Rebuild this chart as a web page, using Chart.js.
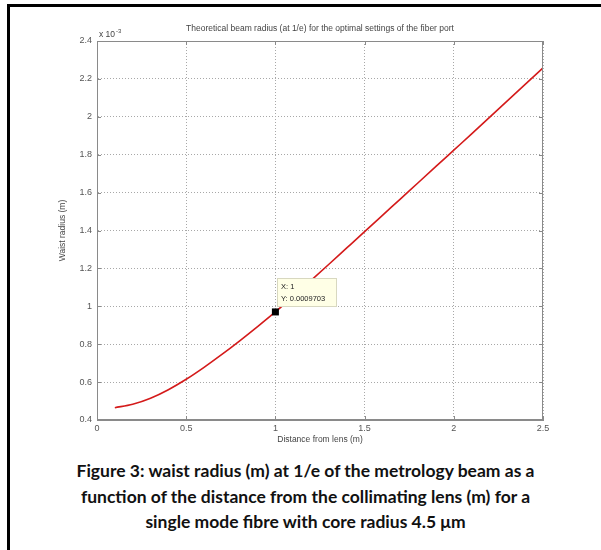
<!DOCTYPE html>
<html>
<head>
<meta charset="utf-8">
<script src="https://cdn.jsdelivr.net/npm/chart.js@4.4.1/dist/chart.umd.min.js"></script>
<style>
  body { margin: 0; background: #fff; }
  #wrap { position: relative; width: 601px; height: 550px; overflow: hidden; }
  #frameTop { position: absolute; left: 7px; top: 4px; width: 594px; height: 3px; background: #000; }
  #frameLeft { position: absolute; left: 7px; top: 4px; width: 3px; height: 546px; background: #000; }
  #chartBox { position: absolute; left: 0; top: 0; width: 601px; height: 450px; }
  #caption {
    position: absolute; left: 10px; top: 458px; width: 591px;
    text-align: center; font-family: Lato, "Open Sans", sans-serif; font-weight: bold;
    font-size: 17.5px; line-height: 25.5px; color: #111;
  }
</style>
</head>
<body>
<div id="wrap">
  <div id="chartBox"><canvas id="myChart" width="601" height="450"></canvas></div>
  <div id="frameTop"></div>
  <div id="frameLeft"></div>
  <div id="caption">Figure 3: waist radius (m) at 1/e of the metrology beam as a<br>function of the distance from the collimating lens (m) for a<br>single mode fibre with core radius 4.5 μm</div>
</div>
<script>
// distance from lens (m)
const distance = [0.1, 0.2, 0.3, 0.4, 0.5, 0.6, 0.7, 0.8, 0.9, 1.0, 1.1, 1.2, 1.3,
  1.4, 1.5, 1.6, 1.7, 1.8, 1.9, 2.0, 2.1, 2.2, 2.3, 2.4, 2.5]
// waist radius, x 10^-3 m
const radius = [0.465, 0.483, 0.515, 0.56, 0.615, 0.678, 0.746, 0.818, 0.893, 0.9703, 1.053,
  1.137, 1.222, 1.308, 1.394, 1.48, 1.566, 1.652, 1.738, 1.824, 1.91, 1.997, 2.084, 2.171, 2.258]
const xTicks = [0, 0.5, 1, 1.5, 2, 2.5]
const yTicks = [0.4, 0.6, 0.8, 1, 1.2, 1.4, 1.6, 1.8, 2, 2.2, 2.4]
const tipX = 1
const tipY = 0.9703

const titleText = 'Theoretical beam radius (at 1/e) for the optimal settings of the fiber port'
const xLabel = 'Distance from lens (m)'
const yLabel = 'Waist radius (m)'
const gray = '#555'

const extras = {
  id: 'extras',
  afterDraw(chart) {
    const ctx = chart.ctx
    const a = chart.chartArea
    const xs = chart.scales.x, ys = chart.scales.y
    ctx.save()
    // box
    ctx.strokeStyle = '#8a8a8a'
    ctx.lineWidth = 1
    ctx.strokeRect(a.left + 0.5, a.top + 0.5, a.right - a.left - 1, a.bottom - a.top - 1)
    // inward ticks
    ctx.beginPath()
    xTicks.forEach(v => {
      const p = Math.round(xs.getPixelForValue(v)) + 0.5
      ctx.moveTo(p, a.bottom); ctx.lineTo(p, a.bottom - 4)
      ctx.moveTo(p, a.top); ctx.lineTo(p, a.top + 4)
    })
    yTicks.forEach(v => {
      const p = Math.round(ys.getPixelForValue(v)) + 0.5
      ctx.moveTo(a.left, p); ctx.lineTo(a.left + 4, p)
      ctx.moveTo(a.right, p); ctx.lineTo(a.right - 4, p)
    })
    ctx.stroke()

    ctx.fillStyle = '#444'
    ctx.font = '8.5px "Liberation Sans", Arial, sans-serif'
    ctx.textAlign = 'center'
    ctx.textBaseline = 'middle'
    ctx.fillText(titleText, (a.left + a.right) / 2, 29)
    ctx.fillText(xLabel, (a.left + a.right) / 2, 440)
    ctx.save()
    ctx.translate(63, (a.top + a.bottom) / 2)
    ctx.rotate(-Math.PI / 2)
    ctx.fillText(yLabel, 0, 0)
    ctx.restore()
    // exponent
    ctx.textAlign = 'left'
    ctx.font = '8.5px "Liberation Sans", Arial, sans-serif'
    ctx.fillText('x 10', 99, 35)
    ctx.font = '6px "Liberation Sans", Arial, sans-serif'
    ctx.fillText('-3', 116, 31)

    // data tip
    const px = xs.getPixelForValue(tipX), py = ys.getPixelForValue(tipY)
    ctx.fillStyle = '#ffffe6'
    ctx.strokeStyle = '#d8d8c0'
    ctx.fillRect(277, 278, 60, 29)
    ctx.strokeRect(277.5, 278.5, 59, 28)
    ctx.fillStyle = '#222'
    ctx.font = '7.5px "Liberation Sans", Arial, sans-serif'
    ctx.fillText('X: 1', 281, 287)
    ctx.fillText('Y: 0.0009703', 281, 299)
    ctx.fillStyle = '#000'
    ctx.fillRect(px - 3.5, py - 3.5, 7, 7)
    ctx.restore()
  }
}

const data = {
  datasets: [{
    data: distance.map((d, i) => ({ x: d, y: radius[i] })),
    borderColor: '#d41a1a',
    borderWidth: 1.6,
    pointRadius: 0,
    cubicInterpolationMode: 'monotone',
    fill: false
  }]
}

const config = {
  type: 'line',
  data: data,
  options: {
    responsive: false,
    animation: false,
    layout: { padding: { left: 0, top: 41, right: 58, bottom: 0 } },
    plugins: { legend: { display: false }, tooltip: { enabled: false }, title: { display: false } },
    scales: {
      x: {
        type: 'linear', min: 0, max: 2.5,
        afterBuildTicks: (s) => { s.ticks = xTicks.map(v => ({ value: v })) },
        afterFit: (s) => { s.height = 30 },
        grid: { color: '#a8a8a8', lineWidth: 1, drawTicks: false },
        border: { display: true, color: '#8a8a8a', dash: [1, 2] },
        ticks: {
          color: gray, padding: 3, maxRotation: 0,
          font: { size: 9, family: '"Liberation Sans", Arial, sans-serif' },
          callback: (v) => String(v)
        }
      },
      y: {
        type: 'linear', min: 0.4, max: 2.4,
        afterBuildTicks: (s) => { s.ticks = yTicks.map(v => ({ value: v })) },
        afterFit: (s) => { s.width = 97 },
        grid: { color: '#a8a8a8', lineWidth: 1, drawTicks: false },
        border: { display: true, color: '#8a8a8a', dash: [1, 2] },
        ticks: {
          color: gray, padding: 5,
          font: { size: 9, family: '"Liberation Sans", Arial, sans-serif' },
          callback: (v) => String(Math.round(v * 10) / 10)
        }
      }
    }
  },
  plugins: [extras]
}

const myChart = new Chart(document.getElementById('myChart'), config)
</script>
</body>
</html>
